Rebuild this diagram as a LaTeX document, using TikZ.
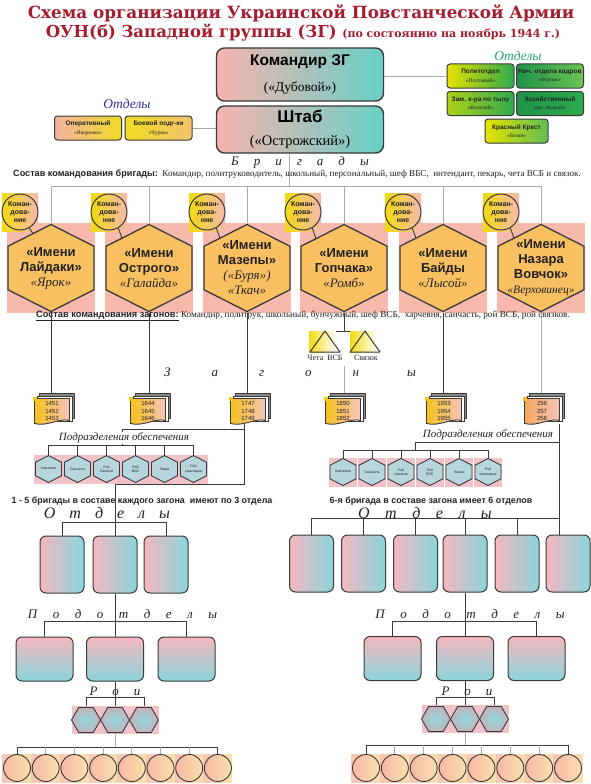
\documentclass[tikz,border=0pt]{standalone}
\usepackage{fontspec}
\setmainfont{Liberation Serif}
\setsansfont{Liberation Sans}
\newfontfamily\titlefont{DejaVu Serif}
\usetikzlibrary{calc,shapes.geometric}
\pgfdeclarelayer{back}
\pgfdeclarelayer{bg}
\pgfsetlayers{back,bg,main}

\definecolor{tred}{HTML}{A51C2E}
\definecolor{lnc}{HTML}{3A3A3A}
\definecolor{lgc}{HTML}{AAAAAA}
\definecolor{bpink}{HTML}{F5B4AE}
\definecolor{bmid}{HTML}{E2EA8E}
\definecolor{bteal}{HTML}{68D0C6}
\definecolor{hexor}{HTML}{F9C062}
\definecolor{hexbg}{HTML}{F6B9AC}
\definecolor{cyel}{HTML}{F2DA10}
\definecolor{opink}{HTML}{F5B7C0}
\definecolor{oteal}{HTML}{8AD5DB}
\definecolor{spk}{HTML}{F2C2CA}
\definecolor{sfill}{HTML}{B6D5DC}
\definecolor{rteal}{HTML}{8ED9DD}
\definecolor{rgray}{HTML}{C3B3BB}
\definecolor{cpk}{HTML}{F7B8A4}
\definecolor{cyl}{HTML}{FAE1AE}
\definecolor{zyel}{HTML}{F5C21C}
\definecolor{zpk}{HTML}{F7C4BA}
\definecolor{zor}{HTML}{F3A860}
\definecolor{zgray}{HTML}{8A8A8A}
\definecolor{blueT}{HTML}{2C2C9C}
\definecolor{greenT}{HTML}{22A07A}
\definecolor{gy}{HTML}{E6E200}
\definecolor{gg}{HTML}{2FAA4E}
\definecolor{gd}{HTML}{1E9448}
\definecolor{gl}{HTML}{6CC455}
\definecolor{yo}{HTML}{F0DC22}
\definecolor{op}{HTML}{F3B2A2}
\definecolor{txtc}{HTML}{222222}

\newcommand{\brit}{\normalfont\rmfamily\itshape\fontsize{13}{15}\selectfont}
\newcommand{\obt}[2]{{\sffamily\bfseries\fontsize{6.5}{8}\selectfont #1}\\{\fontsize{5.5}{8}\selectfont #2}}

% brigade: name, cx, circle cx, text
\newcommand{\Brig}[4]{%
  \fill[hexbg] (#2-44,223) rectangle (#2+44,313);
  \path[left color=cyel,right color=hexbg] (#3-18,193) rectangle (#3+18,231);
  \path[draw=lnc,line width=1.3pt,fill=hexor] (#2,224.5) -- (#2+43,246.25) -- (#2+43,289.75) -- (#2,311.5) -- (#2-43,289.75) -- (#2-43,246.25) -- cycle;
  \node[btxt] (#1) at (#2,268) {#4};
  \node[ctxt] (c#1) at (#3,212) {Коман-\\дова-\\ние};
  \pgfmathsetmacro\tpar{(#2-#3-13)/43}
  \coordinate (e#1) at ($(#2,224.5)!\tpar!(#2-43,246.25)$);
  \draw[ln] (c#1.-60) -- (e#1);
}
% zagon icon: name, cx, numbers, left colour, right colour
\newcommand{\Zag}[5]{%
  \path[draw=lnc,line width=0.8pt,fill=zgray] (#2-12.5,393.5) rectangle (#2+22.5,418.5);
  \path[draw=lnc,line width=0.8pt,fill=white] (#2-15,396) rectangle (#2+20,421);
  \path[draw=lnc,line width=0.9pt,left color=#4,right color=#5] (#2-17.5,398.5) -- (#2+17.5,398.5) -- (#2+17.5,420.5) .. controls (#2+8,417.5) and (#2-5,427) .. (#2-17.5,423.5) -- cycle;
  \fill[zyel] (#2-19,397) rectangle (#2-15.5,400.5);
  \node[ztxt] (#1) at (#2,411) {#3};
}
% small pointy hexagon: name, cx, cy, text
\newcommand{\SHex}[4]{%
  \fill[spk] (#2-14.3,#3-14.5) rectangle (#2+14.3,#3+14.5);
  \path[draw=lnc,line width=0.9pt,fill=sfill] (#2,#3-13.5) -- (#2+13,#3-6.75) -- (#2+13,#3+6.75) -- (#2,#3+13.5) -- (#2-13,#3+6.75) -- (#2-13,#3-6.75) -- cycle;
  \node[stxt] (#1) at (#2,#3) {#4};
}

\begin{document}
\begin{tikzpicture}[x=1pt,y=-1pt,
  ln/.style={draw=lnc,line width=0.9pt},
  lgl/.style={draw=lgc,line width=0.9pt},
  tbox/.style={draw=lnc,line width=1.4pt,rounded corners=8pt,left color=bpink,middle color=bmid,right color=bteal,minimum width=167pt,align=center,inner sep=0pt},
  sbox/.style={draw=lnc,line width=1pt,rounded corners=3pt,minimum width=67pt,minimum height=24pt,align=center,inner sep=0.5pt,font=\fontsize{6}{8.5}\selectfont,text=txtc},
  obox/.style={draw=lnc,line width=1pt,rounded corners=6pt,left color=opink,right color=oteal,minimum width=44pt,minimum height=57pt},
  pbox/.style={draw=lnc,line width=1pt,rounded corners=6pt,top color=opink,bottom color=oteal,minimum width=57pt,minimum height=44pt},
  rhex/.style={regular polygon,regular polygon sides=6,minimum size=29pt,draw=lnc,line width=0.9pt,inner color=rteal,outer color=rgray,inner sep=0pt},
  ucirc/.style={circle,minimum size=27pt,draw=lnc,line width=0.9pt,left color=cpk,right color=cyl,inner sep=0pt},
  spl/.style={font=\rmfamily\itshape\fontsize{13}{15}\selectfont,inner sep=0pt,text=txtc},
  btxt/.style={align=center,inner sep=0pt,minimum width=86pt,minimum height=87pt,font=\sffamily\bfseries\fontsize{13}{15}\selectfont,text=txtc},
  ctxt/.style={circle,draw=lnc,line width=1pt,minimum size=36pt,inner sep=0pt,align=center,font=\sffamily\bfseries\fontsize{7}{8}\selectfont,text=txtc},
  ztxt/.style={align=center,inner sep=0pt,minimum width=35pt,minimum height=25pt,font=\sffamily\fontsize{6}{7.5}\selectfont,text=txtc},
  stxt/.style={align=center,inner sep=0pt,minimum width=26pt,minimum height=27pt,font=\sffamily\fontsize{3.5}{4.2}\selectfont,text=txtc},
  plab/.style={inner sep=1pt,anchor=south,font=\rmfamily\itshape\fontsize{11}{13}\selectfont,text=txtc},
  note/.style={inner sep=0pt,font=\sffamily\bfseries\fontsize{8.9}{10}\selectfont,text=txtc},
]
\begin{pgfonlayer}{back}
\fill[white] (0,0) rectangle (591,784);
\end{pgfonlayer}
\useasboundingbox (0,0) rectangle (591,784);

% title
\node[text=tred,font=\titlefont\bfseries\fontsize{16.8}{20}\selectfont,inner sep=0pt] (t1) at (301,13) {Схема организации Украинской Повстанческой Армии};
\node[text=tred,font=\titlefont\bfseries\fontsize{16.5}{20}\selectfont,inner sep=0pt] (t2) at (303,33) {ОУН(б) Западной группы (ЗГ) {\fontsize{11}{13}\selectfont(по состоянию на ноябрь 1944 г.)}};

% command boxes
\node[tbox,minimum height=53pt,font=\fontsize{10}{26}\selectfont] (kom) at (300,74.5) {{\sffamily\bfseries\fontsize{15.5}{18}\selectfont Командир ЗГ}\\{\fontsize{13.5}{16}\selectfont(«Дубовой»)}};
\node[tbox,minimum height=47pt,font=\fontsize{10}{23}\selectfont] (sh) at (300,129.5) {{\sffamily\bfseries\fontsize{17}{19}\selectfont Штаб}\\{\fontsize{14.5}{16}\selectfont(«Острожский»)}};

\node[text=blueT,font=\rmfamily\itshape\fontsize{13.5}{15}\selectfont,inner sep=0pt] (odl) at (127,104) {Отделы};
\node[sbox,left color=op,right color=yo] (op) at (88,128) {\obt{Оперативный}{«Яворенко»}};
\node[sbox,left color=yo,right color=op!60!yo] (bp) at (158.5,128) {\obt{Боевой подг-ки}{«Чурка»}};

\node[text=greenT,font=\rmfamily\itshape\fontsize{13.5}{15}\selectfont,inner sep=0pt] (odr) at (518,56) {Отделы};
\node[sbox,left color=gy,right color=gg] (pt) at (480.5,76) {\obt{Политотдел}{«Полтавый»}};
\node[sbox,left color=gd,right color=gl] (nk) at (550,76) {\obt{Нач. отдела кадров}{«Бурлак»}};
\node[sbox,left color=gy!70!gg,right color=gg] (zm) at (480.5,103.5) {\obt{Зам. к-ра по тылу}{«Виталий»}};
\node[sbox,left color=gd,right color=gg] (hz) at (550,103.5) {\obt{Хозяйственный}{нач. «Карый»}};
\node[sbox,left color=gy,right color=gl!80!gg,minimum width=63pt] (kk) at (516.5,131) {\obt{Красный Крест}{«Белая»}};

% brigades
\node[spl] (brl) at (300,162) {Б\hspace{15pt}р\hspace{15pt}и\hspace{15pt}г\hspace{15pt}а\hspace{15pt}д\hspace{15pt}ы};
\node[inner sep=0pt,font=\fontsize{9.1}{10}\selectfont,text=txtc] (sb) at (297,174) {{\sffamily\bfseries Состав командования бригады:}\ \ Командир, политруководитель, школьный, персональный, шеф ВБС,\ \ интендант, пекарь, чета\ ВСБ и связок.};

\Brig{b1}{51}{20}{«Имени\\Лайдаки»\\{\brit«Ярок»}}
\Brig{b2}{149}{109}{«Имени\\Острого»\\{\brit«Галайда»}}
\Brig{b3}{247}{207}{«Имени\\Мазепы»\\{\brit(«Буря»)}\\{\brit«Ткач»}}
\Brig{b4}{344}{303}{«Имени\\Гопчака»\\{\brit«Ромб»}}
\Brig{b5}{443}{403}{«Имени\\Байды\\{\brit«Лысой»}}
\Brig{b6}{541}{501}{«Имени\\Назара\\Вовчок»\\{\brit\fontsize{11.5}{15}\selectfont«Верховинец»}}

\node[inner sep=0pt,font=\fontsize{9.2}{10}\selectfont,text=txtc] (sz) at (303,316) {{\sffamily\bfseries\underline{Состав командования загонов:}}\ Командир, политрук, школьный, бунчужный, шеф ВСБ,\ \ харчевня, санчасть, рой ВСБ, рой связков.};

% triangles under brigade 4
\path[left color=cyel,right color=white] (309,331) rectangle (336,352);
\path[left color=cyel,right color=white] (350,331) rectangle (377,352);
\coordinate (ta1) at (325,331);
\coordinate (ta2) at (365,331);
\draw[lnc,line width=1pt,line join=round] (ta1) -- ++(-15,21) -- ++(30,0) -- cycle;
\draw[lnc,line width=1pt,line join=round] (ta2) -- ++(-15,21) -- ++(30,0) -- cycle;
\node[inner sep=0pt,font=\fontsize{8}{9}\selectfont,text=txtc] (tl1) at (325,358) {Чета\ \ ВСБ};
\node[inner sep=0pt,font=\fontsize{8}{9}\selectfont,text=txtc] (tl2) at (366,358) {Связок};
\coordinate (g4) at (344,366);

\node[spl] (zgl) at (290,372) {З\hspace{41pt}а\hspace{41pt}г\hspace{41pt}о\hspace{41pt}н\hspace{48pt}ы};

% zagons
\Zag{z1}{52}{1451\\1452\\1453}{zyel}{zpk}
\Zag{z2}{148}{1644\\1645\\1646}{zyel}{zpk}
\Zag{z3}{248}{1747\\1748\\1749}{zyel}{zpk}
\Zag{z4}{343}{1850\\1851\\1852}{zyel}{zpk}
\Zag{z5}{444}{1953\\1954\\1955}{zyel}{zpk}
\Zag{z6}{542}{256\\257\\258}{zor}{zpk}

% support units
\node[plab,fill=white] (pdlab1) at (124,444.4) {Подразделения обеспечения};
\node[plab] (pdlab2) at (488,441.5) {Подразделения обеспечения};
\SHex{hl1}{48.5}{469}{Харчевня}
\SHex{hl2}{77.5}{469}{Санчасть}
\SHex{hl3}{106.5}{469}{Рой\\Связков}
\SHex{hl4}{135.5}{469}{Рой\\ВСБ}
\SHex{hl5}{164.5}{469}{Лавка}
\SHex{hl6}{193.5}{469}{Рой\\санитаров}
\SHex{hr1}{343}{472}{Харчевня}
\SHex{hr2}{372}{472}{Санчасть}
\SHex{hr3}{401}{472}{Рой\\Связков}
\SHex{hr4}{430}{472}{Рой\\ВСБ}
\SHex{hr5}{459}{472}{Лавка}
\SHex{hr6}{488}{472}{Рой\\санитаров}

\node[note] (n15) at (142,501) {1 - 5 бригады в составе каждого загона\ \ имеют по 3 отдела};
\node[note] (n6) at (431,501) {6-я бригада в составе загона имеет 6 отделов};

% departments
\node[spl,font=\rmfamily\itshape\fontsize{16}{18}\selectfont] (otl) at (107,513) {О\hspace{14pt}т\hspace{14pt}д\hspace{14pt}е\hspace{14pt}л\hspace{14pt}ы};
\node[spl,font=\rmfamily\itshape\fontsize{16}{18}\selectfont] (otr) at (425,513) {О\hspace{15.5pt}т\hspace{15.5pt}д\hspace{15.5pt}е\hspace{15.5pt}л\hspace{15.5pt}ы};
\node[obox] (ol1) at (62,564.5) {};
\node[obox] (ol2) at (115,564.5) {};
\node[obox] (ol3) at (166,564.5) {};
\node[obox] (or1) at (311.5,563.5) {};
\node[obox] (or2) at (363.5,563.5) {};
\node[obox] (or3) at (415.5,563.5) {};
\node[obox] (or4) at (465,563.5) {};
\node[obox] (or5) at (517,563.5) {};
\node[obox] (or6) at (568,563.5) {};

% sub-departments
\node[spl] (pol) at (122.5,614) {П\hspace{15.5pt}о\hspace{15.5pt}д\hspace{15.5pt}о\hspace{15.5pt}т\hspace{15.5pt}д\hspace{15.5pt}е\hspace{15.5pt}л\hspace{15.5pt}ы};
\node[spl] (por) at (470,614) {П\hspace{15.5pt}о\hspace{15.5pt}д\hspace{15.5pt}о\hspace{15.5pt}т\hspace{15.5pt}д\hspace{15.5pt}е\hspace{15.5pt}л\hspace{15.5pt}ы};
\node[pbox] (pdl1) at (44.5,659) {};
\node[pbox] (pdl2) at (115,659) {};
\node[pbox] (pdl3) at (186.5,659) {};
\node[pbox] (pdr1) at (392.5,658.5) {};
\node[pbox] (pdr2) at (465,658.5) {};
\node[pbox] (pdr3) at (536.5,658.5) {};

% squads
\node[spl] (rol) at (115,691) {Р\hspace{15pt}о\hspace{15pt}и};
\node[spl] (ror) at (467,691) {Р\hspace{15pt}о\hspace{15pt}и};
\foreach \x in {86,115,144} \fill[spk] (\x-14.5,706) rectangle (\x+14.5,734);
\foreach \x in {436,465,494} \fill[spk] (\x-14.5,705) rectangle (\x+14.5,733);
\node[rhex] (rl1) at (86,720) {};
\node[rhex] (rl2) at (115,720) {};
\node[rhex] (rl3) at (144,720) {};
\node[rhex] (rr1) at (436,719) {};
\node[rhex] (rr2) at (465,719) {};
\node[rhex] (rr3) at (494,719) {};

% circles
\foreach \i in {0,...,7} {
  \pgfmathsetmacro\xl{17+28.7*\i}
  \pgfmathsetmacro\xr{366+28.86*\i}
  \path[left color=cpk!80,right color=cyl] (\xl-14.3,754) rectangle (\xl+14.3,782);
  \path[left color=cpk!80,right color=cyl] (\xr-14.3,754) rectangle (\xr+14.3,782);
  \node[ucirc] (lc\i) at (\xl,768) {};
  \node[ucirc] (rc\i) at (\xr,768) {};
}

% connectors
\begin{pgfonlayer}{bg}
\draw[lgl] (pt.west) -- (pt.west -| kom.east);
\draw[lgl] (bp.east) -- (bp.east -| sh.west);
\coordinate (brY) at (289,186);
\draw[lgl] (brY |- sh.south) -- (brY);
\draw[lgl] (b1.north) -- (b1.north |- brY) -- (b6.north |- brY) -- (b6.north);
\foreach \k in {2,...,5} \draw[lgl] (b\k.north) -- (b\k.north |- brY);

\foreach \k in {1,2,3,5} \draw[ln] (b\k.south) -- (b\k.south |- z\k.north);
\draw[lgl] (b6.south) -- (b6.south |- z6.north);
\draw[ln] (b4.south) -- (b4.south |- ta1);
\draw[ln] (ta1) -- (ta2);
\draw[lgl] (g4) -- (g4 |- z4.north);

\coordinate (kL1) at (122,429);
\coordinate (kL2) at (115,484);
\coordinate (pbL) at (0,445);
\coordinate (obL) at (0,522);
\coordinate (pdL) at (0,621);
\coordinate (rbL) at (0,697);
\coordinate (cbL) at (0,747);
\draw[ln] ([xshift=-4pt]z3.south) |- (kL2) -- (ol2.north);
\draw[ln] ([xshift=-4pt]z3.south |- kL1) -- (kL1) -- (kL1 |- pbL);
\draw[ln] (hl1.north) -- (hl1.north |- pbL) -- (hl6.north |- pbL) -- (hl6.north);
\foreach \k in {2,...,5} \draw[ln] (hl\k.north) -- (hl\k.north |- pbL);
\draw[ln] (ol1.north) -- (ol1.north |- obL) -- (ol3.north |- obL) -- (ol3.north);
\draw[ln] (ol2.south) -- (ol2.south |- pdL);
\draw[ln] (pdl1.north) -- (pdl1.north |- pdL) -- (pdl3.north |- pdL) -- (pdl3.north);
\draw[ln] (pdl2.north) -- (pdl2.north |- pdL);
\draw[ln] (pdl2.south) -- (pdl2.south |- rbL);
\draw[ln] (rl1.north) -- (rl1.north |- rbL) -- (rl3.north |- rbL) -- (rl3.north);
\draw[ln] (rl2.north) -- (rl2.north |- rbL);
\draw[lgl] (rl2.south) -- (rl2.south |- cbL);
\draw[ln] (lc0.north) -- (lc0.north |- cbL) -- (lc7.north |- cbL) -- (lc7.north);
\foreach \k in {1,...,6} \draw[lgl] (lc\k.north) -- (lc\k.north |- cbL);

\coordinate (kR1) at (415,442);
\coordinate (pbR) at (0,450);
\coordinate (obR) at (0,518);
\coordinate (pdR) at (0,621);
\coordinate (rbR) at (0,697);
\coordinate (cbR) at (0,745);
\draw[ln] (z6.south east) -- (z6.south east |- or6.north);
\draw[ln] (z6.south east |- kR1) -- (kR1) -- (kR1 |- pbR);
\draw[ln] (hr1.north) -- (hr1.north |- pbR) -- (hr6.north |- pbR) -- (hr6.north);
\foreach \k in {2,...,5} \draw[ln] (hr\k.north) -- (hr\k.north |- pbR);
\draw[ln] (or1.north) -- (or1.north |- obR) -- (z6.south east |- obR);
\foreach \k in {2,...,5} \draw[ln] (or\k.north) -- (or\k.north |- obR);
\draw[ln] (or4.south) -- (or4.south |- pdR);
\draw[ln] (pdr1.north) -- (pdr1.north |- pdR) -- (pdr3.north |- pdR) -- (pdr3.north);
\draw[ln] (pdr2.north) -- (pdr2.north |- pdR);
\draw[ln] (pdr2.south) -- (pdr2.south |- rbR);
\draw[ln] (rr1.north) -- (rr1.north |- rbR) -- (rr3.north |- rbR) -- (rr3.north);
\draw[ln] (rr2.north) -- (rr2.north |- rbR);
\draw[lgl] (rr2.south) -- (rr2.south |- cbR);
\draw[ln] (rc0.north) -- (rc0.north |- cbR) -- (rc7.north |- cbR) -- (rc7.north);
\foreach \k in {1,...,6} \draw[lgl] (rc\k.north) -- (rc\k.north |- cbR);
\end{pgfonlayer}
\end{tikzpicture}
\end{document}
